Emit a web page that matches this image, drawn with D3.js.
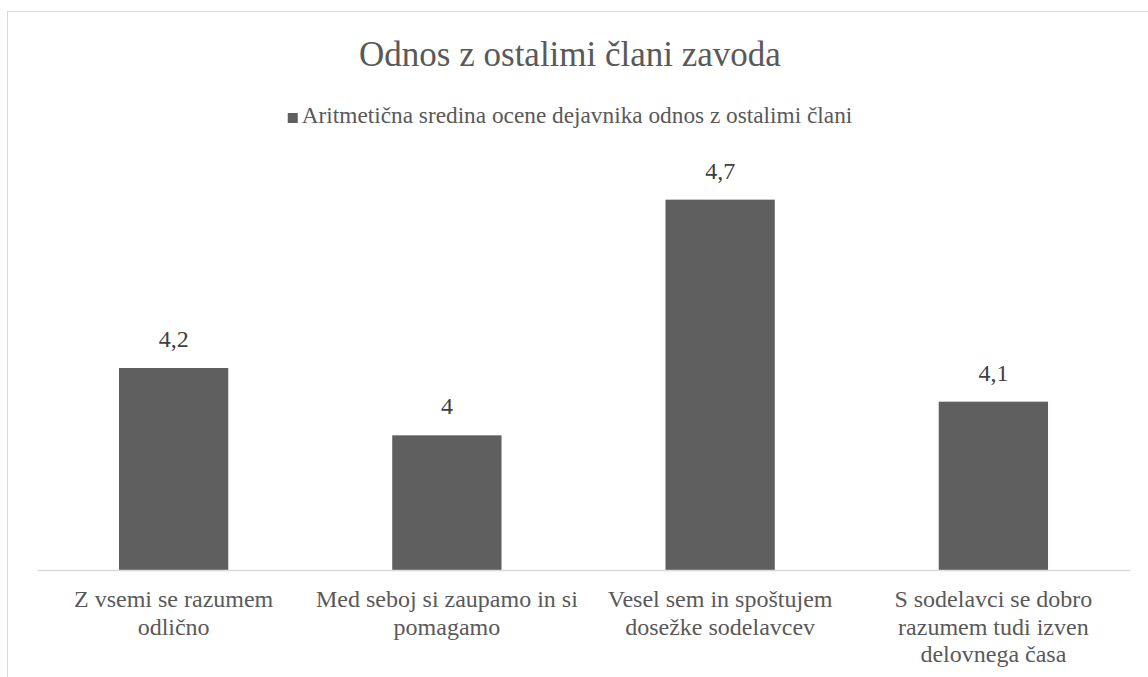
<!DOCTYPE html>
<html>
<head>
<meta charset="utf-8">
<script src="https://cdn.jsdelivr.net/npm/d3@7"></script>
<style>
  html, body { margin: 0; padding: 0; background: #fff; }
  svg { display: block; }
  svg text { font-family: "Times New Roman", "Liberation Serif", serif; }
</style>
</head>
<body>
<svg id="chart" width="1148" height="677"></svg>
<script>
// data
const title = 'Odnos z ostalimi člani zavoda';
const seriesName = 'Aritmetična sredina ocene dejavnika odnos z ostalimi člani';
const categories = [
  'Z vsemi se razumem\nodlično',
  'Med seboj si zaupamo in si\npomagamo',
  'Vesel sem in spoštujem\ndosežke sodelavcev',
  'S sodelavci se dobro\nrazumem tudi izven\ndelovnega časa'
];
const values = [4.2, 4.0, 4.7, 4.1];
const yDomain = [3.6, 4.8];

const svg = d3.select('#chart');

// chart frame (cut off at right/bottom like the source)
svg.append('rect')
  .attr('x', 7.5).attr('y', 11.5)
  .attr('width', 1200).attr('height', 800)
  .attr('fill', 'none')
  .attr('stroke', '#d9d9d9')
  .attr('stroke-width', 1);

const plot = { left: 37, right: 1130, top: 166, bottom: 570 };
const cx = 570;

const x = d3.scaleBand()
  .domain(categories)
  .range([plot.left, plot.right])
  .paddingInner(0.6)
  .paddingOuter(0.3);

const y = d3.scaleLinear()
  .domain(yDomain)
  .range([plot.bottom, plot.top]);

// title
svg.append('text')
  .attr('x', cx).attr('y', 66)
  .attr('text-anchor', 'middle')
  .attr('fill', '#595959')
  .style('font-size', '35px')
  .text(title);

// legend, centred as a whole
const legend = svg.append('g');
legend.append('rect')
  .attr('y', 113)
  .attr('width', 10).attr('height', 10)
  .attr('fill', '#5f5f5f');
const legendText = legend.append('text')
  .attr('x', 14).attr('y', 123)
  .attr('fill', '#595959')
  .style('font-size', '23.3px')
  .text(seriesName);
const legendW = 14 + legendText.node().getComputedTextLength();
legend.attr('transform', `translate(${cx - legendW / 2},0)`);

// bars
svg.append('g')
  .selectAll('rect')
  .data(values)
  .join('rect')
  .attr('x', (d, i) => x(categories[i]))
  .attr('y', (d) => y(d))
  .attr('width', x.bandwidth())
  .attr('height', (d) => plot.bottom - y(d))
  .attr('fill', '#5f5f5f');

// data labels
svg.append('g')
  .selectAll('text')
  .data(values)
  .join('text')
  .attr('x', (d, i) => x(categories[i]) + x.bandwidth() / 2)
  .attr('y', (d) => y(d) - 21)
  .attr('text-anchor', 'middle')
  .attr('fill', '#404040')
  .style('font-size', '24px')
  .text((d) => String(d).replace('.', ','));

// x axis
const xAxis = svg.append('g')
  .attr('transform', `translate(0,${plot.bottom})`)
  .call(d3.axisBottom(x).tickSize(0).tickFormat(''))
  .attr('font-family', null)
  .attr('font-size', null);
xAxis.select('.domain')
  .attr('stroke', '#d9d9d9')
  .attr('stroke-width', 1.5);

// category labels, one tspan per line
xAxis.selectAll('.tick text').remove();
xAxis.selectAll('.tick')
  .append('text')
  .attr('text-anchor', 'middle')
  .attr('fill', '#595959')
  .style('font-size', '24px')
  .each(function (d) {
    const lines = d.split('\n');
    d3.select(this).selectAll('tspan')
      .data(lines)
      .join('tspan')
      .attr('x', 0)
      .attr('y', (l, i) => 37 + i * 27.6)
      .text((l) => l);
  });
</script>
</body>
</html>
